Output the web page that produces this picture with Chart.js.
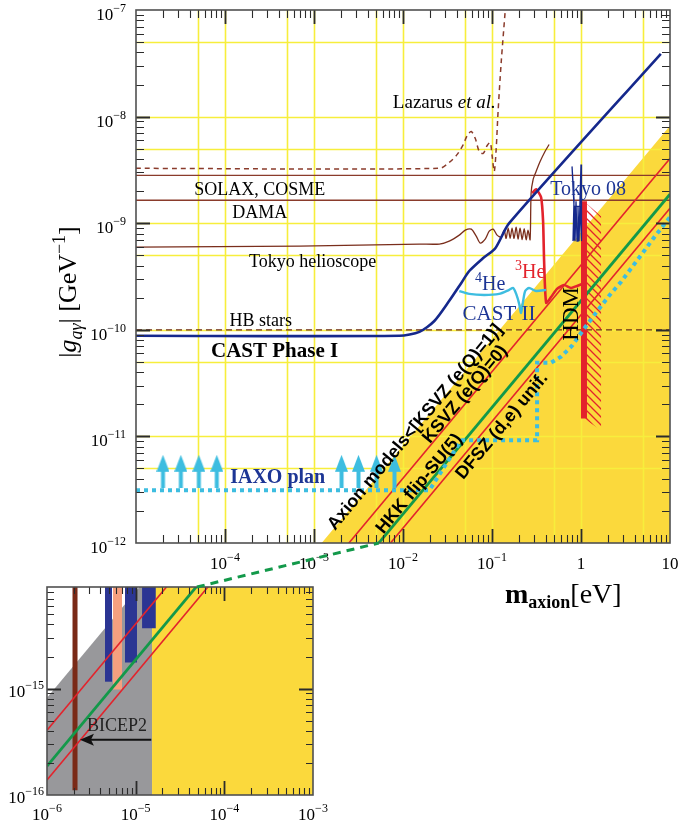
<!DOCTYPE html>
<html>
<head>
<meta charset="utf-8">
<script src="https://cdn.jsdelivr.net/npm/chart.js@4.4.1/dist/chart.umd.min.js"></script>
<style>
html,body{margin:0;padding:0;background:#fff;}
#wrap{position:relative;width:680px;height:822px;overflow:hidden;}
#wrap canvas{position:absolute;left:0;top:0;}
</style>
</head>
<body>
<div id="wrap">
<canvas id="main" width="680" height="822"></canvas>
<canvas id="inset" width="680" height="822"></canvas>
</div>
<script>
// ================= DATA =================
// ---- main panel axes ----
const mainXRange = [1e-5, 10];
const mainYRange = [1e-12, 1e-7];
const mainXTickValues = [1e-4, 1e-3, 1e-2, 1e-1, 1, 10];
const mainXTickBases  = ['10', '10', '10', '10', '1', '10'];
const mainXTickExps   = ['−4', '−3', '−2', '−1', '', ''];
const mainYTickValues = [1e-7, 1e-8, 1e-9, 1e-10, 1e-11, 1e-12];
const mainYTickExps   = ['−7', '−8', '−9', '−10', '−11', '−12'];

// ---- inset panel axes ----
const insetXRange = [1e-6, 1e-3];
const insetYRange = [1e-16, 9e-15];
const insetXTickValues = [1e-6, 1e-5, 1e-4, 1e-3];
const insetXTickExps   = ['−6', '−5', '−4', '−3'];
const insetYTickValues = [1e-15, 1e-16];
const insetYTickExps   = ['−15', '−16'];

// ---- model lines g = c * m (drawn in both panels) ----
const modelLineM = [1e-6, 10];
const bandEdgeG  = [8.2e-16, 8.2e-9];   // Axion models < KSVZ (e(Q)=1)
const ksvz0G     = [4.05e-16, 4.05e-9]; // KSVZ (e(Q)=0)
const hkkG       = [1.87e-16, 1.87e-9]; // HKK flip-SU(5)
const dfszG      = [1.38e-16, 1.38e-9]; // DFSZ (d,e) unif.

// ---- horizontal limits ----
const fullRangeM = [1e-5, 10];
const solaxG   = [2.81e-9, 2.81e-9];
const damaG    = [1.64e-9, 1.64e-9];
const hbStarsG = [1e-10, 1e-10];

// ---- Lazarus et al. (dashed) ----
const lazarusM = [1e-5, 2.56e-2, 3.31e-2, 4.07e-2, 4.75e-2, 5.27e-2, 5.85e-2, 6.49e-2, 7.19e-2, 7.96e-2, 8.83e-2, 9.55e-2, 0.1005, 0.106, 0.111, 0.117, 0.127, 0.141];
const lazarusG = [3.27e-9, 3.27e-9, 3.72e-9, 4.42e-9, 5.47e-9, 6.64e-9, 7.24e-9, 6.23e-9, 4.71e-9, 4.51e-9, 5.36e-9, 5.71e-9, 4.23e-9, 3.06e-9, 4.71e-9, 1.11e-8, 3.27e-8, 1e-7];

// ---- Tokyo helioscope ----
const tokyoHelioM = [1e-5, 6.9e-4, 1.53e-2, 2.56e-2, 3.31e-2, 4.29e-2, 5.01e-2, 5.85e-2, 6.65e-2, 7.38e-2, 8.39e-2, 9.31e-2, 0.103, 0.114, 0.127,
  0.137, 0.144, 0.152, 0.160, 0.168, 0.177, 0.187, 0.196, 0.207, 0.218, 0.230, 0.242, 0.254, 0.268,
  0.275, 0.290, 0.313, 0.347, 0.394, 0.438];
const tokyoHelioG = [5.97e-10, 6.10e-10, 6.37e-10, 6.37e-10, 6.79e-10, 7.73e-10, 8.61e-10, 8.79e-10, 7.57e-10, 6.50e-10, 7.08e-10, 8.41e-10, 8.79e-10, 7.73e-10, 7.40e-10,
  8.6e-10, 7.2e-10, 9.0e-10, 7.2e-10, 9.0e-10, 7.2e-10, 9.2e-10, 7.1e-10, 9.0e-10, 7.0e-10, 8.9e-10, 7.0e-10, 8.6e-10, 7.0e-10,
  1.91e-9, 2.58e-9, 3.06e-9, 3.79e-9, 4.71e-9, 5.47e-9];

// ---- CAST Phase I + CAST II envelope (navy) ----
const castM = [1e-5, 9.12e-3, 1.53e-2, 2.25e-2, 3.31e-2, 4.52e-2, 5.55e-2, 7.96e-2, 0.109, 0.156, 7.89];
const castG = [8.79e-11, 8.79e-11, 9.57e-11, 1.21e-10, 1.87e-10, 2.75e-10, 3.56e-10, 4.71e-10, 5.83e-10, 1.0e-9, 3.88e-8];

// ---- CAST 4He / 3He ----
const he4M = [4.29e-2, 5.55e-2, 8.18e-2, 0.120, 0.156, 0.173, 0.187, 0.202, 0.212, 0.224, 0.236, 0.261, 0.313, 0.406];
const he4G = [2.31e-10, 2.17e-10, 2.12e-10, 2.17e-10, 2.37e-10, 2.47e-10, 2.17e-10, 1.75e-10, 1.44e-10, 1.87e-10, 2.31e-10, 2.47e-10, 2.31e-10, 2.37e-10];
const he3M = [0.283, 0.313, 0.356, 0.375, 0.385, 0.406, 0.461, 0.538, 0.644, 0.773, 0.902, 1.026];
const he3G = [1.91e-9, 2.08e-9, 1.75e-9, 1.04e-9, 4.42e-10, 1.79e-10, 2.03e-10, 2.42e-10, 2.63e-10, 2.47e-10, 2.58e-10, 2.69e-10];

// ---- Tokyo 08 ----
const tokyo08M = [0.813, 0.835, 0.793, 0.835, 0.857, 0.879, 0.902, 0.925, 0.951, 0.975, 1.0, 1.026, 1.0, 0.975, 0.857, 0.835];
const tokyo08G = [6.79e-10, 1.68e-9, 3.41e-9, 1.44e-9, 6.79e-10, 1.61e-9, 6.79e-10, 1.44e-9, 6.79e-10, 1.68e-9, 3.56e-9, 1.44e-9, 6.79e-10, 1.44e-9, 1.44e-9, 6.9e-10];

// ---- HDM ----
const hdmM = [1.08, 1.08];
const hdmG = [1.47e-11, 1.61e-9];
const hdmHatchM = [1.08, 1.68, 1.68, 1.08, 1.08];
const hdmHatchG = [1.61e-9, 1.16e-9, 1.14e-11, 1.47e-11, 1.61e-9];

// ---- IAXO plan (dotted) + arrows ----
const iaxoM = [1e-5, 1.98e-2, 4.29e-2, 4.63e-2, 0.321, 0.321, 0.461, 0.597, 0.793, 1.08, 1.47, 2.06, 2.81, 4.47, 6.93, 10];
const iaxoG = [3.13e-12, 3.13e-12, 8.61e-12, 9.18e-12, 9.18e-12, 4.92e-11, 4.92e-11, 5.60e-11, 7.08e-11, 1.02e-10, 1.44e-10, 2.08e-10, 2.81e-10, 4.71e-10, 7.73e-10, 1.14e-9];
const arrowM = [2.01e-5, 3.19e-5, 5.08e-5, 8.09e-5, 2.04e-3, 3.16e-3, 5.04e-3, 8.02e-3];
const arrowG = [4.71e-12, 4.71e-12, 4.71e-12, 4.71e-12, 4.71e-12, 4.71e-12, 4.71e-12, 4.71e-12];

// ---- inset regions ----
const insetYellowM = [1.53e-5, 1e-3];
const insetYellowG = [1e-16, 1e-16];
const insetGrayM = [1e-6, 1.53e-5];
const insetGrayG = [8.2e-16, 1.25e-14];
const admx1M = [4.51e-6, 5.41e-6];   const admx1G = [1.16e-15, 1.16e-15];
const admx2M = [7.57e-6, 1.035e-5];  const admx2G = [1.76e-15, 1.76e-15];
const admx3M = [1.18e-5, 1.69e-5];   const admx3G = [3.68e-15, 3.68e-15];
const salmonM = [5.55e-6, 7.02e-6];  const salmonG = [9.8e-16, 9.8e-16];
const brownBarM = [2.07e-6, 2.07e-6]; const brownBarG = [1.11e-16, 9e-15];
const bicep2ArrowM = [1.5e-5, 3.05e-6];
const bicep2ArrowG = [3.3e-16, 3.3e-16];

// ---- connector between panels (green dashed) ----
const connectorInset = [4.9e-5, 9.0e-15];
const connectorMain  = [5.35e-3, 1e-12];

// ================= STYLE =================
const SERIF = '"Liberation Serif","DejaVu Serif",serif';
const SANS = '"Liberation Sans",Arial,sans-serif';
const NAVY = '#15288C', RED = '#E3232C', GREEN = '#13994A', CYAN = '#3DBDE0',
      BROWN = '#8A3B2B', BAND = '#FBD93C', GRID = '#F7EE3C', TEXTNAVY = '#1C3595';

// label anchors (data coordinates = text centre)
const mainLabels = [
  {segs: [['Lazarus ', 'r'], ['et al.', 'i']], m: 2.91e-2, g: 1.38e-8, size: 19},
  {segs: [['SOLAX, COSME', 'r']], m: 2.45e-4, g: 2.12e-9, size: 18},
  {segs: [['DAMA', 'r']], m: 2.45e-4, g: 1.27e-9, size: 18},
  {segs: [['Tokyo helioscope', 'r']], m: 9.64e-4, g: 4.42e-10, size: 18},
  {segs: [['HB stars', 'r']], m: 2.52e-4, g: 1.24e-10, size: 18},
  {segs: [['CAST Phase I', 'b']], m: 3.61e-4, g: 6.5e-11, size: 21},
  {segs: [['IAXO plan', 'b']], m: 3.91e-4, g: 4.23e-12, size: 20, color: TEXTNAVY},
  {segs: [['4', 'sup'], ['He', 'r']], m: 9.55e-2, g: 2.75e-10, size: 20, color: TEXTNAVY},
  {segs: [['3', 'sup'], ['He', 'r']], m: 0.268, g: 3.56e-10, size: 20, color: RED},
  {segs: [['CAST II', 'r']], m: 0.120, g: 1.44e-10, size: 21, color: TEXTNAVY},
  {segs: [['Tokyo 08', 'r']], m: 1.20, g: 2.12e-9, size: 20, color: TEXTNAVY},
  {segs: [['HDM', 'r']], m: 0.753, g: 1.41e-10, size: 23, rotate: -Math.PI / 2},
  {segs: [['Axion models<[KSVZ (e(Q)=1)]', 'b']], m: 1.34e-2, g: 1.24e-11, size: 18, sans: true, band: true},
  {segs: [['KSVZ (e(Q)=0)', 'b']], m: 4.88e-2, g: 2.52e-11, size: 18, sans: true, band: true},
  {segs: [['HKK flip-SU(5)', 'b']], m: 1.49e-2, g: 3.64e-12, size: 18, sans: true, band: true},
  {segs: [['DFSZ (d,e) unif.', 'b']], m: 0.127, g: 1.27e-11, size: 18, sans: true, band: true}
];
const insetLabels = [
  {segs: [['BICEP2', 'r']], m: 6.15e-6, g: 4.57e-16, size: 18, color: '#222'}
];

// ================= HELPERS =================
const P = (ms, gs) => ms.map((m, i) => ({x: m, y: gs[i]}));

function logTicks(min, max) {
  const out = [];
  for (let d = Math.floor(Math.log10(min) + 1e-9) - 1; d <= Math.ceil(Math.log10(max)); d++) {
    for (let k = 1; k <= 9; k++) {
      const v = k * Math.pow(10, d);
      if (v >= min * 0.999 && v <= max * 1.001) out.push({v, k});
    }
  }
  return out;
}

function drawRich(ctx, segs, x, baseY, align) {
  let w = 0;
  for (const s of segs) { ctx.font = s.f; w += ctx.measureText(s.t).width; }
  let cx = align === 'center' ? x - w / 2 : (align === 'right' ? x - w : x);
  ctx.textAlign = 'left';
  ctx.textBaseline = 'alphabetic';
  for (const s of segs) {
    ctx.font = s.f;
    ctx.fillStyle = s.c || '#000';
    ctx.fillText(s.t, cx, baseY + (s.dy || 0));
    cx += ctx.measureText(s.t).width;
  }
}

function powSegs(base, exp, size, esize) {
  const segs = [{t: base, f: `${size}px ${SERIF}`}];
  if (exp) segs.push({t: exp, f: `${esize}px ${SERIF}`, dy: -Math.round(size * 0.45)});
  return segs;
}

function drawFrameTicks(chart, xr, yr, majLen, minLen) {
  const {ctx, chartArea: a, scales: {x, y}} = chart;
  ctx.save();
  ctx.strokeStyle = '#2b2b2b';
  for (const t of logTicks(xr[0], xr[1])) {
    const px = Math.round(x.getPixelForValue(t.v)) + 0.5;
    if (px < a.left + 1 || px > a.right - 1) continue;
    const L = t.k === 1 ? majLen : minLen;
    ctx.lineWidth = t.k === 1 ? 1.8 : 1.1;
    ctx.beginPath();
    ctx.moveTo(px, a.bottom); ctx.lineTo(px, a.bottom - L);
    ctx.moveTo(px, a.top); ctx.lineTo(px, a.top + L);
    ctx.stroke();
  }
  for (const t of logTicks(yr[0], yr[1])) {
    const py = Math.round(y.getPixelForValue(t.v)) + 0.5;
    if (py < a.top + 1 || py > a.bottom - 1) continue;
    const L = t.k === 1 ? majLen : minLen;
    ctx.lineWidth = t.k === 1 ? 1.8 : 1.1;
    ctx.beginPath();
    ctx.moveTo(a.left, py); ctx.lineTo(a.left + L, py);
    ctx.moveTo(a.right, py); ctx.lineTo(a.right - L, py);
    ctx.stroke();
  }
  ctx.lineWidth = 1.6;
  ctx.strokeStyle = '#505050';
  ctx.strokeRect(a.left, a.top, a.right - a.left, a.bottom - a.top);
  ctx.restore();
}

function drawGrid(chart) {
  const {ctx, chartArea: a, scales: {x, y}} = chart;
  ctx.save();
  ctx.strokeStyle = GRID;
  ctx.lineWidth = 1.6;
  for (const t of logTicks(mainXRange[0], mainXRange[1])) {
    if (t.k !== 1 && t.k !== 5) continue;
    const px = Math.round(x.getPixelForValue(t.v)) + 0.5;
    if (px < a.left + 2 || px > a.right - 2) continue;
    ctx.beginPath(); ctx.moveTo(px, a.top); ctx.lineTo(px, a.bottom); ctx.stroke();
  }
  for (const t of logTicks(mainYRange[0], mainYRange[1])) {
    if (t.k !== 1 && t.k !== 5) continue;
    const py = Math.round(y.getPixelForValue(t.v)) + 0.5;
    if (py < a.top + 2 || py > a.bottom - 2) continue;
    ctx.beginPath(); ctx.moveTo(a.left, py); ctx.lineTo(a.right, py); ctx.stroke();
  }
  ctx.restore();
}

function fontFor(st, size, sans) {
  const fam = sans ? SANS : SERIF;
  if (st === 'i') return `italic ${size}px ${fam}`;
  if (st === 'b') return `bold ${size}px ${fam}`;
  if (st === 'sup') return `${Math.round(size * 0.68)}px ${fam}`;
  return `${size}px ${fam}`;
}

function drawLabels(chart, labels, angle) {
  const {ctx, scales: {x, y}} = chart;
  for (const L of labels) {
    const px = x.getPixelForValue(L.m), py = y.getPixelForValue(L.g);
    ctx.save();
    ctx.translate(px, py);
    const rot = L.band ? angle : (L.rotate || 0);
    if (rot) ctx.rotate(rot);
    const segs = L.segs.map(([t, st]) => ({t, f: fontFor(st, L.size, L.sans), dy: st === 'sup' ? -L.size * 0.4 : 0, c: L.color || '#000'}));
    drawRich(ctx, segs, 0, L.size * 0.34, 'center');
    ctx.restore();
  }
}

function bandAngle(chart) {
  const {scales: {x, y}} = chart;
  const p1 = {x: x.getPixelForValue(modelLineM[0]), y: y.getPixelForValue(bandEdgeG[0])};
  const p2 = {x: x.getPixelForValue(modelLineM[1]), y: y.getPixelForValue(bandEdgeG[1])};
  return Math.atan2(p2.y - p1.y, p2.x - p1.x);
}

function makeArrow() {
  const c = document.createElement('canvas');
  c.width = 13; c.height = 33;
  const g = c.getContext('2d');
  g.fillStyle = CYAN;
  g.beginPath(); g.moveTo(6.5, 0); g.lineTo(13, 17); g.lineTo(0, 17); g.closePath(); g.fill();
  g.fillRect(4.5, 16, 4, 17);
  return c;
}

function makeHatch(ctx) {
  const c = document.createElement('canvas');
  c.width = 8; c.height = 8;
  const g = c.getContext('2d');
  g.strokeStyle = RED; g.lineWidth = 1.3;
  g.beginPath();
  g.moveTo(-1, -1); g.lineTo(9, 9);
  g.moveTo(-1, 7); g.lineTo(1, 9);
  g.moveTo(7, -1); g.lineTo(9, 1);
  g.stroke();
  return ctx.createPattern(c, 'repeat');
}

function line(data, color, width, extra) {
  return Object.assign({data, borderColor: color, borderWidth: width, backgroundColor: color, fill: false, pointRadius: 0, tension: 0}, extra || {});
}

// ================= MAIN CHART =================
const mainCanvas = document.getElementById('main');
const hatchPattern = makeHatch(mainCanvas.getContext('2d'));
const arrowImg = makeArrow();

const mainPlugin = {
  id: 'mainDecor',
  afterDatasetDraw(chart, args) {
    if (chart.data.datasets[args.index].role === 'band') drawGrid(chart);
  },
  afterDatasetsDraw(chart) { drawLabels(chart, mainLabels, bandAngle(chart)); },
  afterDraw(chart) {
    const {ctx, scales: {x, y}, chartArea: a} = chart;
    drawFrameTicks(chart, mainXRange, mainYRange, 14, 8);
    ctx.save();
    mainXTickValues.forEach((v, i) => {
      drawRich(ctx, powSegs(mainXTickBases[i], mainXTickExps[i], 17, 12), x.getPixelForValue(v), a.bottom + 26, 'center');
    });
    mainYTickValues.forEach((v, i) => {
      drawRich(ctx, powSegs('10', mainYTickExps[i], 17, 12), a.left - 10, y.getPixelForValue(v) + 10, 'right');
    });
    // x title
    drawRich(ctx, [
      {t: 'm', f: `bold 28px ${SERIF}`},
      {t: 'axion', f: `bold 18px ${SERIF}`, dy: 5},
      {t: '[eV]', f: `28px ${SERIF}`}
    ], 505, 603, 'left');
    // y title
    ctx.translate(76, 292);
    ctx.rotate(-Math.PI / 2);
    const s = 26, ss = 18;
    drawRich(ctx, [
      {t: '|', f: `${s}px ${SERIF}`},
      {t: 'g', f: `italic ${s}px ${SERIF}`},
      {t: 'aγ', f: `italic ${ss}px ${SERIF}`, dy: 6},
      {t: '| [GeV', f: `${s}px ${SERIF}`},
      {t: '−1', f: `${ss}px ${SERIF}`, dy: -11},
      {t: ']', f: `${s}px ${SERIF}`}
    ], 0, 0, 'center');
    ctx.restore();
  }
};

const mainChart = new Chart(mainCanvas, {
  type: 'line',
  data: {
    datasets: [
      line(P(modelLineM, bandEdgeG), 'rgba(0,0,0,0)', 0, {role: 'band', backgroundColor: BAND, fill: 'start', order: 100}),
      line(P(hdmHatchM, hdmHatchG), 'rgba(0,0,0,0)', 0, {backgroundColor: hatchPattern, fill: 'shape', order: 90}),
      line(P(fullRangeM, solaxG), BROWN, 1.4, {order: 60}),
      line(P(fullRangeM, damaG), BROWN, 1.4, {order: 60}),
      line(P(fullRangeM, hbStarsG), '#6E2A1C', 1.2, {borderDash: [6, 4], order: 59}),
      line(P(lazarusM, lazarusG), BROWN, 1.5, {borderDash: [5, 4], tension: 0.3, order: 55}),
      line(P(tokyoHelioM, tokyoHelioG), '#7A2E1C', 1.3, {tension: 0.25, order: 50}),
      line(P(modelLineM, ksvz0G), RED, 1.6, {order: 45}),
      line(P(modelLineM, dfszG), RED, 1.6, {order: 45}),
      line(P(modelLineM, hkkG), GREEN, 2.8, {order: 44}),
      line(P(he3M, he3G), RED, 2.6, {tension: 0.2, order: 40}),
      line(P(hdmM, hdmG), RED, 6, {borderCapStyle: 'butt', order: 38}),
      line(P(tokyo08M, tokyo08G), NAVY, 1.3, {order: 36}),
      line(P(he4M, he4G), CYAN, 2.4, {tension: 0.25, order: 34}),
      line(P(castM, castG), NAVY, 2.6, {tension: 0.25, order: 30}),
      line(P(iaxoM, iaxoG), CYAN, 4, {borderDash: [4, 4], borderCapStyle: 'butt', order: 20}),
      line(P(arrowM, arrowG), CYAN, 0, {showLine: false, pointRadius: 10, pointStyle: arrowImg, order: 10})
    ]
  },
  options: {
    responsive: false, animation: false, devicePixelRatio: 1, events: [],
    layout: {padding: {left: 136, top: 8, right: 9, bottom: 279}},
    scales: {
      x: {type: 'logarithmic', min: mainXRange[0], max: mainXRange[1], display: false},
      y: {type: 'logarithmic', min: mainYRange[0], max: mainYRange[1], display: false}
    },
    plugins: {legend: {display: false}, tooltip: {enabled: false}},
    elements: {point: {radius: 0}}
  },
  plugins: [mainPlugin]
});

// ================= INSET CHART =================
const insetPlugin = {
  id: 'insetDecor',
  afterDatasetsDraw(chart) {
    const {ctx, scales: {x, y}} = chart;
    drawLabels(chart, insetLabels, 0);
    // BICEP2 arrow head (shaft is a dataset)
    const tx = x.getPixelForValue(bicep2ArrowM[1]), ty = y.getPixelForValue(bicep2ArrowG[1]);
    ctx.save();
    ctx.fillStyle = '#111';
    ctx.beginPath(); ctx.moveTo(tx - 10, ty); ctx.lineTo(tx + 4, ty - 6); ctx.lineTo(tx + 1, ty); ctx.lineTo(tx + 4, ty + 6); ctx.closePath(); ctx.fill();
    ctx.restore();
  },
  afterDraw(chart) {
    const {ctx, scales: {x, y}, chartArea: a} = chart;
    drawFrameTicks(chart, insetXRange, insetYRange, 14, 7);
    ctx.save();
    insetXTickValues.forEach((v, i) => {
      drawRich(ctx, powSegs('10', insetXTickExps[i], 17, 12), x.getPixelForValue(v), a.bottom + 25, 'center');
    });
    insetYTickValues.forEach((v, i) => {
      drawRich(ctx, powSegs('10', insetYTickExps[i], 17, 12), a.left - 3, y.getPixelForValue(v) + 8, 'right');
    });
    // connector to main panel
    const mx = mainChart.scales.x, my = mainChart.scales.y;
    ctx.setLineDash([8, 6]);
    ctx.strokeStyle = GREEN; ctx.lineWidth = 3;
    ctx.beginPath();
    ctx.moveTo(x.getPixelForValue(connectorInset[0]), y.getPixelForValue(connectorInset[1]));
    ctx.lineTo(mx.getPixelForValue(connectorMain[0]), my.getPixelForValue(connectorMain[1]));
    ctx.stroke();
    ctx.restore();
  }
};

const insetChart = new Chart(document.getElementById('inset'), {
  type: 'line',
  data: {
    datasets: [
      line(P(insetYellowM, insetYellowG), 'rgba(0,0,0,0)', 0, {backgroundColor: BAND, fill: 'end', order: 100}),
      line(P(insetGrayM, insetGrayG), 'rgba(0,0,0,0)', 0, {backgroundColor: '#98989B', fill: 'start', order: 90}),
      line(P(admx1M, admx1G), 'rgba(0,0,0,0)', 0, {backgroundColor: '#2B3593', fill: 'end', order: 50}),
      line(P(admx2M, admx2G), 'rgba(0,0,0,0)', 0, {backgroundColor: '#2B3593', fill: 'end', order: 50}),
      line(P(admx3M, admx3G), 'rgba(0,0,0,0)', 0, {backgroundColor: '#2B3593', fill: 'end', order: 50}),
      line(P(salmonM, salmonG), 'rgba(0,0,0,0)', 0, {backgroundColor: '#F6A07F', fill: 'end', order: 50}),
      line(P(brownBarM, brownBarG), '#7A2A17', 5, {borderCapStyle: 'butt', order: 40}),
      line(P(modelLineM, ksvz0G), RED, 1.6, {order: 20}),
      line(P(modelLineM, dfszG), RED, 1.6, {order: 20}),
      line(P(modelLineM, hkkG), GREEN, 2.8, {order: 19}),
      line(P(bicep2ArrowM, bicep2ArrowG), '#111', 2, {order: 15})
    ]
  },
  options: {
    responsive: false, animation: false, devicePixelRatio: 1, events: [],
    layout: {padding: {left: 47, top: 587, right: 367, bottom: 27}},
    scales: {
      x: {type: 'logarithmic', min: insetXRange[0], max: insetXRange[1], display: false},
      y: {type: 'logarithmic', min: insetYRange[0], max: insetYRange[1], display: false}
    },
    plugins: {legend: {display: false}, tooltip: {enabled: false}},
    elements: {point: {radius: 0}}
  },
  plugins: [insetPlugin]
});
</script>
</body>
</html>
